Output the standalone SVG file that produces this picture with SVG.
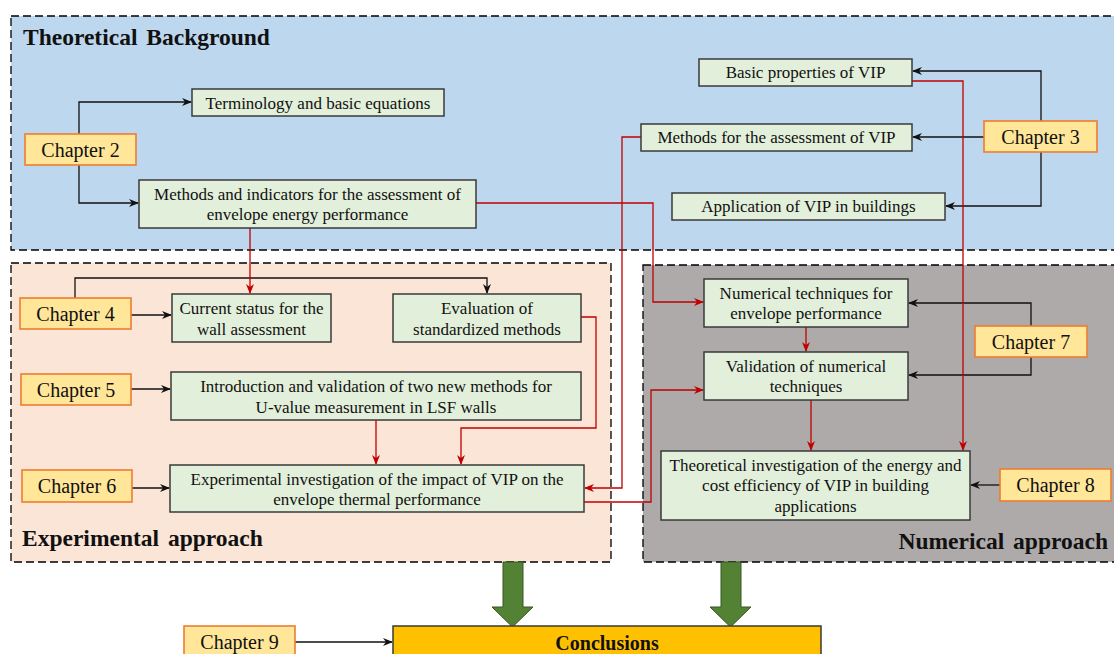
<svg xmlns="http://www.w3.org/2000/svg" width="1114" height="654" viewBox="0 0 1114 654">
<defs>
<style>
.panel{stroke:#000;stroke-width:1.3;stroke-dasharray:8,4}
.box{fill:#E2EFDA;stroke:#3A3A3A;stroke-width:1.5}
.ch{fill:#FFE699;stroke:#ED7D31;stroke-width:1.6}
.t{font-family:"Liberation Serif","Times New Roman",serif;font-size:17px;fill:#111;text-anchor:middle}
.c{font-family:"Liberation Serif","Times New Roman",serif;font-size:20px;fill:#111;text-anchor:middle}
.title{font-family:"Liberation Serif","Times New Roman",serif;font-size:23.5px;font-weight:bold;fill:#111;word-spacing:3px}
.blk{fill:none;stroke:#111;stroke-width:1.3;marker-end:url(#ab)}
.red{fill:none;stroke:#C00000;stroke-width:1.3;marker-end:url(#ar)}
.big{fill:#548235;stroke:#375623;stroke-width:1}
</style>
<marker id="ab" viewBox="0 0 10 8" refX="9" refY="4" markerWidth="10" markerHeight="8" markerUnits="userSpaceOnUse" orient="auto"><path d="M0,0 L10,4 L0,8 L3,4 Z" fill="#111"/></marker>
<marker id="ar" viewBox="0 0 10 8" refX="9" refY="4" markerWidth="10" markerHeight="8" markerUnits="userSpaceOnUse" orient="auto"><path d="M0,0 L10,4 L0,8 L3,4 Z" fill="#C00000"/></marker>
</defs>
<rect width="1114" height="654" fill="#fff"/>
<g id="panels">
<rect class="panel" x="11" y="16" width="1115" height="234" fill="#BDD7EE"/>
<rect class="panel" x="11" y="263" width="600" height="299" fill="#FBE5D6"/>
<rect class="panel" x="643" y="265" width="480" height="297" fill="#AEAAAA"/>
<text class="title" x="23" y="45">Theoretical Background</text>
<text class="title" x="22" y="546">Experimental approach</text>
<text class="title" x="1108" y="549" text-anchor="end">Numerical approach</text>
</g>
<g id="connectors">
<path class="blk" d="M79,134 V102 H191"/>
<path class="blk" d="M79,165 V203 H138"/>
<path class="blk" d="M1041,121 V71 H913"/>
<path class="blk" d="M984,137 H913"/>
<path class="blk" d="M1041,152 V206 H946"/>
<path class="blk" d="M131,315 H171"/>
<path class="blk" d="M75,298 V278 H487 V293"/>
<path class="blk" d="M131,389 H170"/>
<path class="blk" d="M132,488 H169"/>
<path class="blk" d="M1031,326 V303 H909"/>
<path class="blk" d="M1031,357 V375 H909"/>
<path class="blk" d="M1000,485 H971"/>
<path class="blk" d="M295,642 H392"/>
<path class="red" d="M250,228 V293"/>
<path class="red" d="M476,203 H653 V302 H703"/>
<path class="red" d="M912,81 H963 V450"/>
<path class="red" d="M641,137 H622 V488 H585"/>
<path class="red" d="M581,317 H596 V428 H461 V464"/>
<path class="red" d="M376,420 V464"/>
<path class="red" d="M584,502 H651 V390 H703"/>
<path class="red" d="M806,327 V351"/>
<path class="red" d="M811,400 V450"/>
<polygon class="big" points="503,562 523,562 523,607 533,607 512.5,627 492,607 503,607"/>
<polygon class="big" points="721,562 741,562 741,607 751,607 730.5,627 710,607 721,607"/>
</g>
<g id="n-terminology"><rect class="box" x="192" y="89" width="252" height="27"/><text class="t" x="318" y="108.5">Terminology and basic equations</text></g>
<g id="n-methods-indicators"><rect class="box" x="139" y="180" width="337" height="48"/><text class="t" x="307.5" y="200">Methods and indicators for the assessment of</text><text class="t" x="307.5" y="220">envelope energy performance</text></g>
<g id="n-basic"><rect class="box" x="699" y="59" width="213" height="27"/><text class="t" x="805.5" y="77.5">Basic properties of VIP</text></g>
<g id="n-methods-vip"><rect class="box" x="641" y="124" width="271" height="27"/><text class="t" x="776.5" y="142.5">Methods for the assessment of VIP</text></g>
<g id="n-application"><rect class="box" x="672" y="193" width="273" height="27"/><text class="t" x="808.5" y="212">Application of VIP in buildings</text></g>
<g id="n-current"><rect class="box" x="172" y="294" width="159" height="48"/><text class="t" x="251.5" y="314">Current status for the</text><text class="t" x="251.5" y="335">wall assessment</text></g>
<g id="n-evaluation"><rect class="box" x="393" y="294" width="188" height="48"/><text class="t" x="487" y="314">Evaluation of</text><text class="t" x="487" y="335">standardized methods</text></g>
<g id="n-intro"><rect class="box" x="171" y="372" width="410" height="48"/><text class="t" x="376" y="392">Introduction and validation of two new methods for</text><text class="t" x="376" y="412.5">U-value measurement in LSF walls</text></g>
<g id="n-experimental"><rect class="box" x="170" y="465" width="414" height="47"/><text class="t" x="377" y="485">Experimental investigation of the impact of VIP on the</text><text class="t" x="377" y="505">envelope thermal performance</text></g>
<g id="n-numtech"><rect class="box" x="704" y="279" width="204" height="48"/><text class="t" x="806" y="298.5">Numerical techniques for</text><text class="t" x="806" y="318.5">envelope performance</text></g>
<g id="n-validation"><rect class="box" x="704" y="352" width="204" height="48"/><text class="t" x="806" y="372">Validation of numerical</text><text class="t" x="806" y="392">techniques</text></g>
<g id="n-theoretical"><rect class="box" x="661" y="451" width="309" height="69"/><text class="t" x="815.5" y="470.5">Theoretical investigation of the energy and</text><text class="t" x="815.5" y="491">cost efficiency of VIP in building</text><text class="t" x="815.5" y="512">applications</text></g>
<g id="n-ch2"><rect class="ch" x="25" y="134" width="111" height="31"/><text class="c" x="80.5" y="157">Chapter 2</text></g>
<g id="n-ch3"><rect class="ch" x="984" y="121" width="113" height="31"/><text class="c" x="1040.5" y="144">Chapter 3</text></g>
<g id="n-ch4"><rect class="ch" x="20" y="298" width="111" height="31"/><text class="c" x="75.5" y="321">Chapter 4</text></g>
<g id="n-ch5"><rect class="ch" x="21" y="374" width="110" height="31"/><text class="c" x="76" y="397">Chapter 5</text></g>
<g id="n-ch6"><rect class="ch" x="22" y="470" width="110" height="32"/><text class="c" x="77" y="493">Chapter 6</text></g>
<g id="n-ch7"><rect class="ch" x="975" y="326" width="112" height="31"/><text class="c" x="1031" y="349">Chapter 7</text></g>
<g id="n-ch8"><rect class="ch" x="1000" y="469" width="111" height="32"/><text class="c" x="1055.5" y="492">Chapter 8</text></g>
<g id="n-ch9"><rect class="ch" x="184" y="626" width="111" height="32"/><text class="c" x="239.5" y="649">Chapter 9</text></g>
<g id="n-conclusions"><rect x="393" y="626" width="428" height="40" fill="#FFC000" stroke="#3A3A3A" stroke-width="1.5"/><text class="c" x="607" y="650" font-weight="bold" font-size="19px">Conclusions</text></g>
</svg>
